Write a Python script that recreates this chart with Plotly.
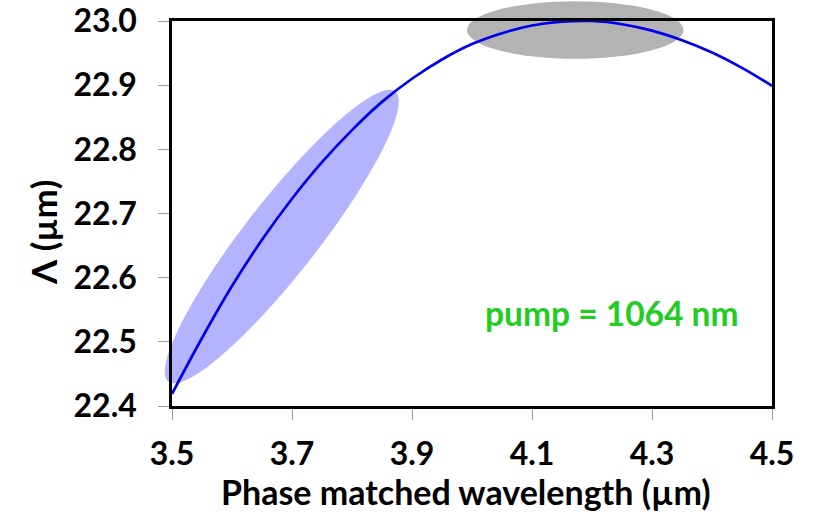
import math
import plotly.graph_objects as go

# ---------------- data ----------------
wavelength_um = [3.50, 3.55, 3.60, 3.65, 3.70, 3.75, 3.80, 3.85, 3.90, 3.95,
                 4.00, 4.05, 4.10, 4.15, 4.20, 4.25, 4.30, 4.35, 4.40, 4.45, 4.50]
period_um = [22.419, 22.506, 22.587, 22.659, 22.723, 22.780, 22.830, 22.874, 22.910, 22.940,
             22.964, 22.981, 22.993, 22.999, 23.000, 22.995, 22.985, 22.970, 22.951, 22.927, 22.899]

x_tick_vals = [3.5, 3.7, 3.9, 4.1, 4.3, 4.5]
y_tick_vals = [22.4, 22.5, 22.6, 22.7, 22.8, 22.9, 23.0]

x_range = [3.5, 4.5]
y_range = [22.4, 23.0]

# highlight ellipses (data units): centre, tip of the long axis, half-width of short axis (px)
blue_center = [3.683, 22.664]
blue_tip = [3.872, 22.890]
blue_half_width_px = [36.5]

gray_center = [4.172, 22.986]
gray_half_x = [0.1805]
gray_half_y = [0.0448]

x_title = ["Phase matched wavelength (µm)"]
y_title = ["Λ (µm)"]
annotation_text = ["pump = 1064 nm"]

# ---------------- layout constants ----------------
W, H = 815, 513
ML, MR, MT, MB = 172, 43, 21, 107
PW, PH = W - ML - MR, H - MT - MB
FONT = "Lato"


def to_paper(x, y):
    return ((x - x_range[0]) / (x_range[1] - x_range[0]),
            (y - y_range[0]) / (y_range[1] - y_range[0]))


def ellipse_path(center, tip, half_w_px, n=120):
    cx, cy = to_paper(*center)
    tx, ty = to_paper(*tip)
    cxp, cyp = cx * PW, cy * PH
    txp, typ = tx * PW, ty * PH
    a = math.hypot(txp - cxp, typ - cyp)
    th = math.atan2(typ - cyp, txp - cxp)
    b = half_w_px
    pts = []
    for i in range(n):
        t = 2 * math.pi * i / n
        px = cxp + a * math.cos(t) * math.cos(th) - b * math.sin(t) * math.sin(th)
        py = cyp + a * math.cos(t) * math.sin(th) + b * math.sin(t) * math.cos(th)
        pts.append((px / PW, py / PH))
    return "M " + " L ".join(f"{p[0]:.5f},{p[1]:.5f}" for p in pts) + " Z"


fig = go.Figure()
fig.add_trace(go.Scatter(
    x=wavelength_um, y=period_um, mode="lines",
    line=dict(color="#0000ee", width=2.7, shape="spline", smoothing=1.0),
    showlegend=False, hoverinfo="skip", cliponaxis=False))

gx0, gy0 = to_paper(gray_center[0] - gray_half_x[0], gray_center[1] - gray_half_y[0])
gx1, gy1 = to_paper(gray_center[0] + gray_half_x[0], gray_center[1] + gray_half_y[0])

fig.update_layout(
    width=W, height=H,
    margin=dict(l=ML, r=MR, t=MT, b=MB, pad=0, autoexpand=False),
    paper_bgcolor="white", plot_bgcolor="white",
    font=dict(family=FONT, color="black"),
    shapes=[
        dict(type="path", xref="paper", yref="paper",
             path=ellipse_path(blue_center, blue_tip, blue_half_width_px[0]),
             fillcolor="#b3b3ff", line=dict(width=0), layer="below"),
        dict(type="circle", xref="paper", yref="paper",
             x0=gx0, x1=gx1, y0=gy0, y1=gy1,
             fillcolor="#b3b3b3", line=dict(width=0), layer="below"),
    ],
    annotations=[
        dict(x=4.233, y=22.545, xref="x", yref="y", text=annotation_text[0],
             showarrow=False, font=dict(family=FONT, size=33.5, color="#22cc22", weight="bold")),
        dict(x=(466 - ML) / PW, y=-(491 - (H - MB)) / PH, xref="paper", yref="paper",
             text=x_title[0], showarrow=False, xanchor="center", yanchor="middle",
             font=dict(family=FONT, size=34, weight="bold")),
        dict(x=(43 - ML) / PW, y=((H - MB) - 233) / PH, xref="paper", yref="paper",
             text=y_title[0], showarrow=False, xanchor="center", yanchor="middle",
             textangle=-90, font=dict(family=FONT, size=35, weight="bold")),
    ],
    xaxis=dict(
        range=x_range, tickvals=x_tick_vals, ticktext=[f"{v:.1f}" for v in x_tick_vals],
        showgrid=False, zeroline=False, automargin=False,
        showline=True, linecolor="black", linewidth=2.5, mirror=True,
        ticks="outside", ticklen=11, tickcolor="#999999", tickwidth=1,
        ticklabelstandoff=7,
        tickfont=dict(family=FONT, size=32, weight="bold"),
    ),
    yaxis=dict(
        range=y_range, tickvals=y_tick_vals, ticktext=[f"{v:.1f}" for v in y_tick_vals],
        showgrid=False, zeroline=False, automargin=False,
        showline=True, linecolor="black", linewidth=2.5, mirror=True,
        ticks="outside", ticklen=11, tickcolor="#999999", tickwidth=1,
        ticklabelstandoff=15,
        tickfont=dict(family=FONT, size=32, weight="bold"),
    ),
)

fig.write_html("out.html")
